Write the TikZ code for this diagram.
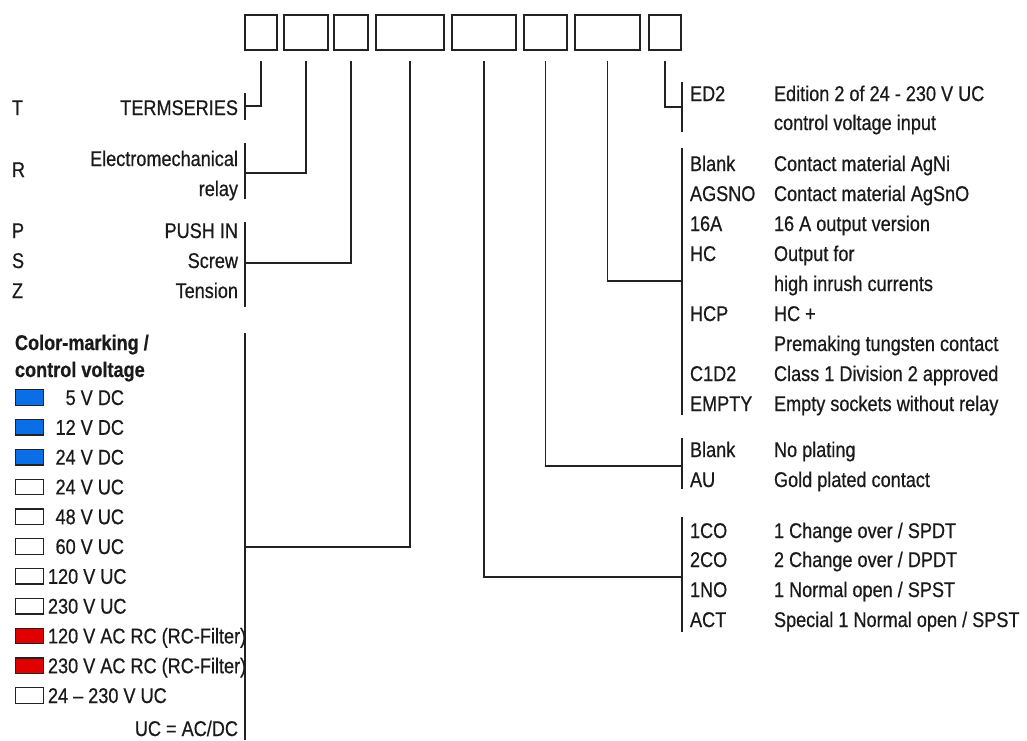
\documentclass[tikz,border=0pt]{standalone}
\usepackage{fontspec}
\setmainfont[FakeStretch=0.85, FakeBold=0.6]{Liberation Sans}
\definecolor{txt}{HTML}{1A1A1A}
\definecolor{ln}{HTML}{222222}
\definecolor{bluemark}{HTML}{0A6EE6}
\definecolor{redmark}{HTML}{E00000}
\newcommand{\fs}{\fontsize{21.3}{25}\selectfont}
\tikzset{
  pbox/.style={draw=ln, line width=2pt, minimum height=35pt, inner sep=0, outer sep=0},
  lbl/.style={inner sep=0, outer sep=0, text=txt, font=\fs},
  hdr/.style={inner sep=0, outer sep=0, text=txt, font=\fs\bfseries},
  sq/.style={draw=ln, line width=1.3pt, minimum width=28pt, minimum height=15.5pt, inner sep=0, outer sep=0},
  wire/.style={draw=ln, line width=1.7pt},
}
\begin{document}
\begin{tikzpicture}[x=1pt,y=-1pt]
\useasboundingbox (0,0) rectangle (1027,740);
% code boxes
\node[pbox, minimum width=32pt] (b1) at (261,32.5) {};
\node[pbox, minimum width=44pt] (b2) at (306,32.5) {};
\node[pbox, minimum width=34pt] (b3) at (351,32.5) {};
\node[pbox, minimum width=68pt] (b4) at (410,32.5) {};
\node[pbox, minimum width=64pt] (b5) at (484,32.5) {};
\node[pbox, minimum width=43pt] (b6) at (545.5,32.5) {};
\node[pbox, minimum width=65pt] (b7) at (607.5,32.5) {};
\node[pbox, minimum width=32pt] (b8) at (665,32.5) {};

% bracket joints and ends
\coordinate (j1) at (245,106); \coordinate (g1t) at (245,93);  \coordinate (g1b) at (245,120);
\coordinate (j2) at (245,173); \coordinate (g2t) at (245,143); \coordinate (g2b) at (245,199);
\coordinate (j3) at (245,263); \coordinate (g3t) at (245,222); \coordinate (g3b) at (245,307);
\coordinate (j4) at (245,547); \coordinate (g4t) at (245,333); \coordinate (g4b) at (245,740);
\coordinate (j5) at (682,577); \coordinate (g5t) at (682,517); \coordinate (g5b) at (682,632);
\coordinate (j6) at (682,466); \coordinate (g6t) at (682,438); \coordinate (g6b) at (682,489);
\coordinate (j7) at (682,281); \coordinate (g7t) at (682,148); \coordinate (g7b) at (682,415);
\coordinate (j8) at (682,107); \coordinate (g8t) at (682,82);  \coordinate (g8b) at (682,132);

\foreach \i in {1,...,8}{
  \draw[wire] (g\i t) -- (g\i b);
  \draw[wire] ([yshift=-11pt]b\i.south) |- (j\i);
}

% left: letters
\node[lbl, anchor=base west] (kT) at (12,115) {T};
\node[lbl, anchor=base west] (kR) at (12,177) {R};
\node[lbl, anchor=base west] (kP) at (12,238) {P};
\node[lbl, anchor=base west] (kS) at (12,268) {S};
\node[lbl, anchor=base west] (kZ) at (12,298) {Z};
% left: labels
\node[lbl, anchor=base east] (lT) at (238,115) {TERMSERIES};
\node[lbl, anchor=base east] (lR1) at (238,166) {Electromechanical};
\node[lbl, anchor=base east] (lR2) at (238,196) {relay};
\node[lbl, anchor=base east] (lP) at (238,238) {PUSH IN};
\node[lbl, anchor=base east] (lS) at (238,268) {Screw};
\node[lbl, anchor=base east] (lZ) at (238,298) {Tension};

% colour marking
\node[hdr, anchor=base west] (h1) at (15,350) {Color-marking /};
\node[hdr, anchor=base west] (h2) at (15,377) {control voltage};

\node[sq, fill=bluemark] (q0) at (29.5,397.5) {};
\node[sq, fill=bluemark] (q1) at (29.5,427.3) {};
\node[sq, fill=bluemark] (q2) at (29.5,457.1) {};
\node[sq, fill=white]    (q3) at (29.5,486.9) {};
\node[sq, fill=white]    (q4) at (29.5,516.7) {};
\node[sq, fill=white]    (q5) at (29.5,546.5) {};
\node[sq, fill=white]    (q6) at (29.5,576.3) {};
\node[sq, fill=white]    (q7) at (29.5,606.1) {};
\node[sq, fill=redmark]  (q8) at (29.5,635.9) {};
\node[sq, fill=redmark]  (q9) at (29.5,665.7) {};
\node[sq, fill=white]    (q10) at (29.5,695.5) {};

\node[lbl, anchor=base east] (c0) at (124,405) {5 V DC};
\node[lbl, anchor=base east] (c1) at (124,434.8) {12 V DC};
\node[lbl, anchor=base east] (c2) at (124,464.6) {24 V DC};
\node[lbl, anchor=base east] (c3) at (124,494.4) {24 V UC};
\node[lbl, anchor=base east] (c4) at (124,524.2) {48 V UC};
\node[lbl, anchor=base east] (c5) at (124,554) {60 V UC};
\node[lbl, anchor=base west] (c6) at (48,583.8) {120 V UC};
\node[lbl, anchor=base west] (c7) at (48,613.6) {230 V UC};
\node[lbl, anchor=base west] (c8) at (48,643.4) {120 V AC RC (RC-Filter)};
\node[lbl, anchor=base west] (c9) at (48,673.2) {230 V AC RC (RC-Filter)};
\node[lbl, anchor=base west] (c10) at (48,703) {24 – 230 V UC};
\node[lbl, anchor=base east] (cUC) at (238,736) {UC = AC/DC};

% right: codes and descriptions
\node[lbl, anchor=base west] (rED2) at (690,101) {ED2};
\node[lbl, anchor=base west] (dED2a) at (774,101) {Edition 2 of 24 - 230 V UC};
\node[lbl, anchor=base west] (dED2b) at (774,130) {control voltage input};

\node[lbl, anchor=base west] (rBl) at (690,171) {Blank};
\node[lbl, anchor=base west] (dBl) at (774,171) {Contact material AgNi};
\node[lbl, anchor=base west] (rAG) at (690,201) {AGSNO};
\node[lbl, anchor=base west] (dAG) at (774,201) {Contact material AgSnO};
\node[lbl, anchor=base west] (r16) at (690,231) {16A};
\node[lbl, anchor=base west] (d16) at (774,231) {16 A output version};
\node[lbl, anchor=base west] (rHC) at (690,261) {HC};
\node[lbl, anchor=base west] (dHCa) at (774,261) {Output for};
\node[lbl, anchor=base west] (dHCb) at (774,291) {high inrush currents};
\node[lbl, anchor=base west] (rHCP) at (690,321) {HCP};
\node[lbl, anchor=base west] (dHCPa) at (774,321) {HC +};
\node[lbl, anchor=base west] (dHCPb) at (774,351) {Premaking tungsten contact};
\node[lbl, anchor=base west] (rC1) at (690,381) {C1D2};
\node[lbl, anchor=base west] (dC1) at (774,381) {Class 1 Division 2 approved};
\node[lbl, anchor=base west] (rEM) at (690,411) {EMPTY};
\node[lbl, anchor=base west] (dEM) at (774,411) {Empty sockets without relay};

\node[lbl, anchor=base west] (rBl2) at (690,457) {Blank};
\node[lbl, anchor=base west] (dBl2) at (774,457) {No plating};
\node[lbl, anchor=base west] (rAU) at (690,487) {AU};
\node[lbl, anchor=base west] (dAU) at (774,487) {Gold plated contact};

\node[lbl, anchor=base west] (r1CO) at (690,538) {1CO};
\node[lbl, anchor=base west] (d1CO) at (774,538) {1 Change over / SPDT};
\node[lbl, anchor=base west] (r2CO) at (690,567) {2CO};
\node[lbl, anchor=base west] (d2CO) at (774,567) {2 Change over / DPDT};
\node[lbl, anchor=base west] (r1NO) at (690,597) {1NO};
\node[lbl, anchor=base west] (d1NO) at (774,597) {1 Normal open / SPST};
\node[lbl, anchor=base west] (rACT) at (690,627) {ACT};
\node[lbl, anchor=base west] (dACT) at (774,627) {Special 1 Normal open / SPST};
\end{tikzpicture}
\end{document}
